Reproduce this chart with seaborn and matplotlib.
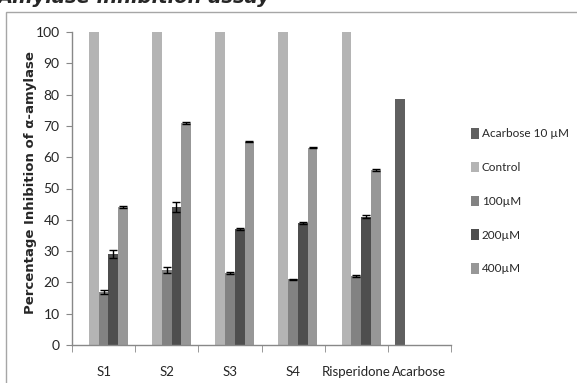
import numpy as np
import pandas as pd
import seaborn as sns
import matplotlib.pyplot as plt
from matplotlib.patches import Rectangle, Patch

# values
samples = ['S1', 'S2', 'S3', 'S4', 'Risperidone', 'Acarbose']
series = ['Acarbose 10 µM', 'Control', '100µM', '200µM', '400µM']
acarbose_10 = [0, 0, 0, 0, 0, 78.7]
control = [100, 100, 100, 100, 100, 0]
conc_100 = [17, 24, 23, 21, 22, 0]
conc_200 = [29, 44, 37, 39, 41, 0]
conc_400 = [44, 71, 65, 63, 56, 0]
err_100 = [0.7, 1.0, 0.4, 0.2, 0.3, 0]
err_200 = [1.2, 1.6, 0.3, 0.2, 0.5, 0]
err_400 = [0.3, 0.3, 0.3, 0.2, 0.3, 0]
colors = ['#606060', '#b4b4b4', '#828282', '#4e4e4e', '#979797']

sns.set_style('white')
plt.rcParams['font.family'] = ['Lato', 'DejaVu Sans']

values = [acarbose_10, control, conc_100, conc_200, conc_400]
errs = [None, None, err_100, err_200, err_400]
df = pd.DataFrame({
    'sample': samples * len(series),
    'group': np.repeat(series, len(samples)),
    'value': np.concatenate(values),
})

fig = plt.figure(figsize=(5.77, 3.83), dpi=100)
# outer chart frame
fig.patches.append(Rectangle((6 / 577, -0.1), 1.1, 1 - 12 / 383 + 0.1,
                             transform=fig.transFigure, fill=False,
                             edgecolor='#a6a6a6', linewidth=1))
fig.text(-3 / 577, 1 - 3 / 383, 'Amylase inhibition assay', fontsize=14,
         fontweight='bold', fontstyle='italic', family='DejaVu Sans',
         ha='left', va='baseline')

ax = fig.add_axes([72 / 577, 1 - 345 / 383, 379 / 577, 313 / 383])
sns.barplot(data=df, x='sample', y='value', hue='group', hue_order=series,
            order=samples, palette=colors, width=0.77, linewidth=0,
            errorbar=None, ax=ax, legend=False)

for cont, err in zip(ax.containers, errs):
    if err is None:
        continue
    xs = [b.get_x() + b.get_width() / 2 for b in cont]
    ys = [b.get_height() for b in cont]
    ax.errorbar(xs[:5], ys[:5], yerr=err[:5], fmt='none', ecolor='black',
                elinewidth=1, capsize=3, capthick=1)

ax.set_xlim(-0.5, 5.5)
ax.set_ylim(0, 100)
ax.set_yticks(range(0, 101, 10))
ax.set_xticks(np.arange(-0.5, 6, 1), minor=True)
ax.tick_params(axis='x', which='major', length=0, pad=15, labelsize=9.5)
ax.tick_params(axis='x', which='minor', length=5, color='#888888', direction='out')
ax.tick_params(axis='y', length=4, color='#888888', direction='out', labelsize=10, pad=5)
ax.xaxis.set_tick_params(bottom=True, which='both')
ax.yaxis.set_tick_params(left=True)
ax.set_xlabel('')
ax.set_ylabel('')
fig.text(31 / 577, 1 - 183 / 383, 'Percentage Inhibition of α-amylase',
         fontsize=9.5, fontweight='bold', family='DejaVu Sans',
         rotation=90, ha='center', va='center')
sns.despine(ax=ax)
for s in ['left', 'bottom']:
    ax.spines[s].set_color('#888888')
    ax.spines[s].set_linewidth(1)

handles = [Patch(facecolor=c, edgecolor='none') for c in colors]
fig.legend(handles, series, loc='upper left',
           bbox_to_anchor=(471 / 577, 1 - 128 / 383), frameon=False,
           fontsize=8.5, handlelength=0.68, handleheight=1.0,
           handletextpad=0.25, labelspacing=1.9, borderaxespad=0,
           borderpad=0)

fig.savefig('out.png', dpi=100)
